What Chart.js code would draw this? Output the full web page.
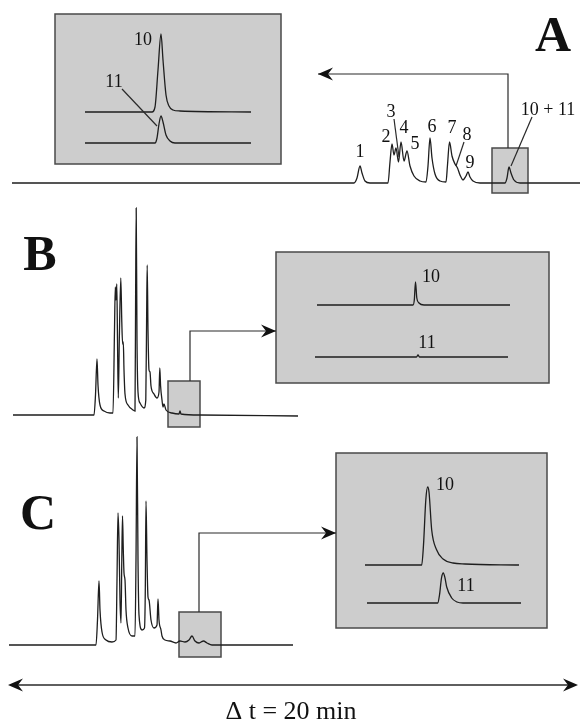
<!DOCTYPE html>
<html>
<head>
<meta charset="utf-8">
<script src="https://cdn.jsdelivr.net/npm/chart.js@4/dist/chart.umd.min.js"></script>
<style>
	html, body { margin: 0; padding: 0; background: #fff; }
	#fig { display: block; }
</style>
</head>
<body>
<canvas id="fig" width="582" height="726"></canvas>
<script>
// traces, [time, signal] in figure units
const traceA = [[12,183],[354,183],[357,178],[360,166],[362,173],[365,181],[370,183],[388,183],[390,162],[392,144],[394,155],[396,148],[398.5,162],[401,142],[404,161],[407,151],[410,166],[414,176],[420,181],[426,182],[428,166],[430,138],[432,158],[435,174],[440,181],[446,182],[447.5,165],[449.5,142],[452,156],[455,164],[457.5,168],[460,175],[463,180],[466,176],[468,172],[470,177],[473,181],[480,183],[505,183],[507,178],[509,167],[511,173],[514,180],[520,183],[580,183]]
const insetA10 = [[85,112],[152,112],[155,107],[158,70],[161,34],[163,60],[166,95],[169,106],[173,110],[180,111],[251,112]]
const insetA11 = [[85,143],[155,143],[157,138],[159,124],[161,116],[163,122],[166,135],[170,141],[175,143],[251,143]]

const traceB = [[13,415],[94,415],[95.5,395],[97,359],[98,385],[100,405],[104,411],[110,413],[113,413],[114.5,330],[115.3,287],[116,300],[116.8,284],[117.5,340],[118.3,398],[119.3,340],[120.8,278],[121.8,322],[122.6,344],[123.3,342],[124,370],[125,394],[128,405],[133,410],[135,411],[135.6,300],[136.2,208],[137,340],[138,392],[140,403],[144,408],[145.8,400],[146.6,320],[147.2,265],[148,330],[149,370],[150,372],[151,386],[154,394],[157,398],[159,392],[159.8,368],[160.6,386],[162,400],[163,407],[164,404],[166,410],[172,413],[179,414],[180,411],[181,414],[200,415],[298,416]]
const insetB10 = [[317,305],[413,305],[414.3,300],[415.5,282],[416.8,298],[419,303],[424,305],[510,305]]
const insetB11 = [[315,357],[416.5,357],[418,355],[419.5,357],[508,357]]

const traceC = [[9,645],[96,645],[97.5,620],[99,581],[100,610],[102,632],[106,640],[112,642],[116,640],[117,580],[118,513],[119,540],[120,600],[121,623],[121.8,560],[122.5,516],[123.3,550],[124,573],[125,580],[126,610],[128,628],[132,636],[135,636],[136,560],[137,437],[138,560],[139,615],[142,630],[144.5,628],[145.3,590],[146,501],[147,560],[148,597],[149,600],[151,620],[154,628],[157,625],[158,599],[159,620],[161,630],[162,636],[165,640],[170,641],[176,643],[180,641],[185,642],[189,640],[192,636],[195,641],[199,643],[201,642],[203.5,641],[207,643],[212,645],[293,645]]
const insetC10 = [[365,565],[421.7,565],[423.5,545],[425.8,500],[427.7,487],[429,492],[431.7,530],[436.7,550],[443,559],[453,563],[465,564],[519,565]]
const insetC11 = [[367,603],[437.7,603],[439.5,595],[441.5,578],[443.3,573],[445,578],[446.7,587],[451.7,598],[457,602],[463,603],[521,603]]

// grey boxes [x0, y0, x1, y1]
const boxes = [[55,14,281,164],[492,148,528,193],[276,252,549,383],[168,381,200,427],[336,453,547,628],[179,612,221,657]]
// elbow arrows: points of the path, head at the last point
const arrows = [[[508,148],[508,74],[318,74]],[[190,381],[190,331],[276,331]],[[199,612],[199,533],[336,533]]]
// leader lines from label to peak
const leaders = [[[122,89],[157,126]],[[394,119],[399,157]],[[464,142],[456,166]],[[532,117],[511,166]]]

const panelLabels = [['A',553,38],['B',40,257],['C',38,516]]
const peakLabels = [['1',360,152],['2',386,137],['3',391,112],['4',404,128],['5',415,144],['6',432,127],['7',452,128],['8',467,135],['9',470,163],['10 + 11',548,110],
	['10',143,40],['11',114,82],['10',431,277],['11',427,343],['10',445,485],['11',466,586]]

const serif = '"Liberation Serif", "DejaVu Serif", serif'

function head(ctx, tx, ty, ang) {
	ctx.save()
	ctx.translate(tx, ty)
	ctx.rotate(ang)
	ctx.beginPath()
	ctx.moveTo(0, 0)
	ctx.lineTo(-15, -6.5)
	ctx.lineTo(-10, 0)
	ctx.lineTo(-15, 6.5)
	ctx.closePath()
	ctx.fill()
	ctx.restore()
}

const figPlugin = {
	id: 'figPlugin',
	beforeDatasetsDraw(chart) {
		const { ctx, scales: { x, y } } = chart
		ctx.save()
		boxes.forEach(b => {
			const x0 = x.getPixelForValue(b[0]), y0 = y.getPixelForValue(b[1])
			const x1 = x.getPixelForValue(b[2]), y1 = y.getPixelForValue(b[3])
			ctx.fillStyle = '#cdcdcd'
			ctx.fillRect(x0, y0, x1 - x0, y1 - y0)
			ctx.strokeStyle = '#4a4a4a'
			ctx.lineWidth = 1.5
			ctx.strokeRect(x0, y0, x1 - x0, y1 - y0)
		})
		ctx.restore()
	},
	afterDatasetsDraw(chart) {
		const { ctx, scales: { x, y } } = chart
		const px = p => [x.getPixelForValue(p[0]), y.getPixelForValue(p[1])]
		ctx.save()
		ctx.strokeStyle = '#2a2a2a'
		ctx.fillStyle = '#111'
		ctx.lineWidth = 1.2

		arrows.forEach(a => {
			const pts = a.map(px)
			ctx.beginPath()
			pts.forEach((p, i) => i ? ctx.lineTo(p[0], p[1]) : ctx.moveTo(p[0], p[1]))
			ctx.stroke()
			const [p1, p2] = pts.slice(-2)
			head(ctx, p2[0], p2[1], Math.atan2(p2[1] - p1[1], p2[0] - p1[0]))
		})

		leaders.forEach(l => {
			const [a, b] = l.map(px)
			ctx.beginPath()
			ctx.moveTo(a[0], a[1])
			ctx.lineTo(b[0], b[1])
			ctx.stroke()
		})

		// time span arrow
		const l = px([8, 685]), r = px([578, 685])
		ctx.lineWidth = 1.6
		ctx.beginPath()
		ctx.moveTo(l[0] + 8, l[1])
		ctx.lineTo(r[0] - 8, r[1])
		ctx.stroke()
		head(ctx, l[0], l[1], Math.PI)
		head(ctx, r[0], r[1], 0)

		ctx.textAlign = 'center'
		ctx.textBaseline = 'middle'
		ctx.font = '26px ' + serif
		const t = px([291, 712])
		ctx.fillText('\u0394 t = 20 min', t[0], t[1])

		ctx.font = '18px ' + serif
		peakLabels.forEach(([s, lx, ly]) => {
			const p = px([lx, ly])
			ctx.fillText(s, p[0], p[1])
		})
		ctx.font = 'bold 50px ' + serif
		panelLabels.forEach(([s, lx, ly]) => {
			const p = px([lx, ly])
			ctx.fillText(s, p[0], p[1])
		})
		ctx.restore()
	}
}

const traces = [traceA, insetA10, insetA11, traceB, insetB10, insetB11, traceC, insetC10, insetC11]

let cfg = {
	type: 'scatter',
	data: {
		datasets: traces.map(tr => ({
			data: tr.map(([t, s]) => ({ x: t, y: s })),
			showLine: true,
			pointRadius: 0,
			borderColor: '#1e1e1e',
			borderWidth: 1.3,
			cubicInterpolationMode: 'monotone',
			fill: false
		}))
	},
	options: {
		responsive: false,
		animation: false,
		layout: { padding: 0 },
		plugins: { legend: { display: false }, tooltip: { enabled: false } },
		scales: {
			x: { type: 'linear', min: 0, max: 582, display: false },
			y: { type: 'linear', min: 0, max: 726, reverse: true, display: false }
		}
	},
	plugins: [figPlugin]
}
new Chart('fig', cfg)
</script>
</body>
</html>
